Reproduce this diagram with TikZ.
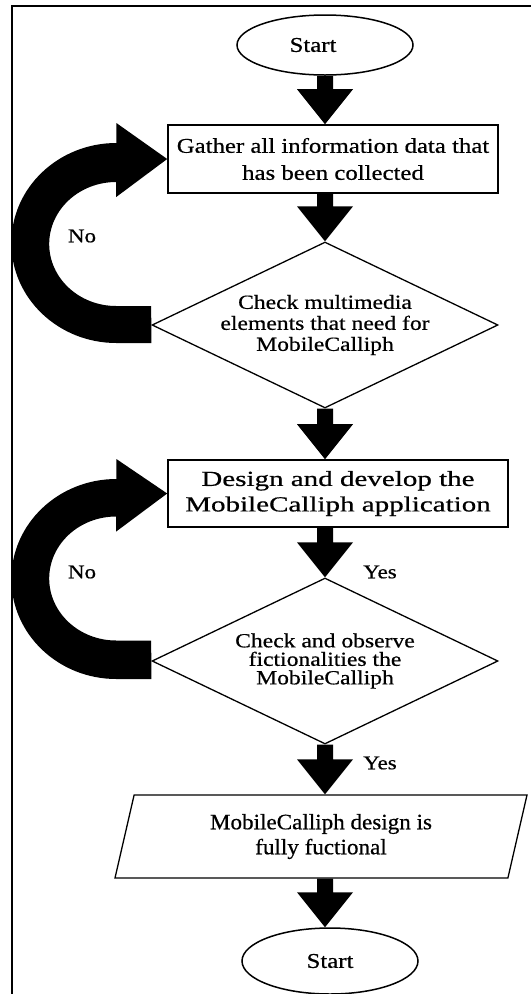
\documentclass[tikz,border=0pt]{standalone}
\usepackage{fontspec}
\setmainfont{Liberation Serif}[FakeStretch=1.18, FakeBold=0.6]
\newfontfamily\widefont{Liberation Serif}[FakeStretch=1.35, FakeBold=0.6]
\newfontfamily\narrowfont{Liberation Serif}[FakeStretch=1.05, FakeBold=0.6]
\usetikzlibrary{shapes.geometric,calc}
\tikzset{
  termin/.style={draw, line width=1.5pt, ellipse, inner sep=0pt, minimum width=176, minimum height=60, font=\fontsize{21}{22}\selectfont},
  procbox/.style={draw, line width=1.6pt, rectangle, inner sep=0pt, align=center},
  decis/.style={draw, line width=1.3pt, diamond, inner sep=0pt, aspect=2.08, minimum width=346, minimum height=166, align=center},
  iobox/.style={draw, line width=1.3pt, trapezium, trapezium left angle=67, trapezium right angle=113, trapezium stretches body, inner sep=0pt, minimum width=412, minimum height=83, align=center, font=\narrowfont\fontsize{22}{25}\selectfont},
  lbl/.style={inner sep=0pt, font=\fontsize{19.5}{22}\selectfont}
}
\newcommand{\blockdown}[3]{%
  \fill let \p1=(#1.south), \p2=(#2.north), \p3=(#3.center) in
    (\x3-8pt,\y1) -- (\x3+8pt,\y1) -- (\x3+8pt,\y2+35pt) -- (\x3+28pt,\y2+35pt)
    -- (\x3,\y2) -- (\x3-28pt,\y2+35pt) -- (\x3-8pt,\y2+35pt) -- cycle;}
\newcommand{\backarrow}[2]{%
  \fill (#1.west) ++(0,18) -- ++(-35,0)
    arc[start angle=90, end angle=270, x radius=105, y radius=100]
    -- ++(0,-20) -- (#2.west) -- ++(-51,38) -- ++(0,-15)
    arc[start angle=270, end angle=90, x radius=67, y radius=62]
    -- ++(35,0) -- cycle;}
\begin{document}
\begin{tikzpicture}[x=1pt, y=-1pt]
\useasboundingbox (0,0) rectangle (531,994);
\draw[line width=2pt] (12,994) -- (12,6) -- (531,6);

\node[termin] (s1) at (325,45) {Start\hspace*{24pt}};
\node[procbox, minimum width=330, minimum height=68, font=\fontsize{21}{27}\selectfont] (b1) at (333,159)
  {Gather all information data that\\has been collected};
\node[decis, font=\fontsize{20}{21}\selectfont] (d1) at (325,325)
  {Check multimedia\\elements that need for\\MobileCalliph};
\node[procbox, minimum width=340, minimum height=67, font=\widefont\fontsize{21.5}{25.5}\selectfont] (b2) at (338,493.5)
  {Design and develop the\\MobileCalliph application};
\node[decis, font=\fontsize{20}{18.5}\selectfont] (d2) at (325,661)
  {Check and observe\\fictionalities the\\MobileCalliph};
\node[iobox] (p) at (321,836.5) {MobileCalliph design is\\fully fuctional};
\node[termin, minimum height=66] (s2) at (330,961) {Start};

\blockdown{s1}{b1}{s1}
\blockdown{b1}{d1}{d1}
\blockdown{d1}{b2}{d1}
\blockdown{b2}{d2}{d2}
\blockdown{d2}{p}{d2}
\blockdown{p}{s2}{d2}

\backarrow{d1}{b1}
\backarrow{d2}{b2}

\node[lbl] (no1) at (82,236) {No};
\node[lbl] (no2) at (82,572) {No};
\node[lbl] (yes1) at (380,572) {Yes};
\node[lbl] (yes2) at (380,763) {Yes};
\end{tikzpicture}
\end{document}
